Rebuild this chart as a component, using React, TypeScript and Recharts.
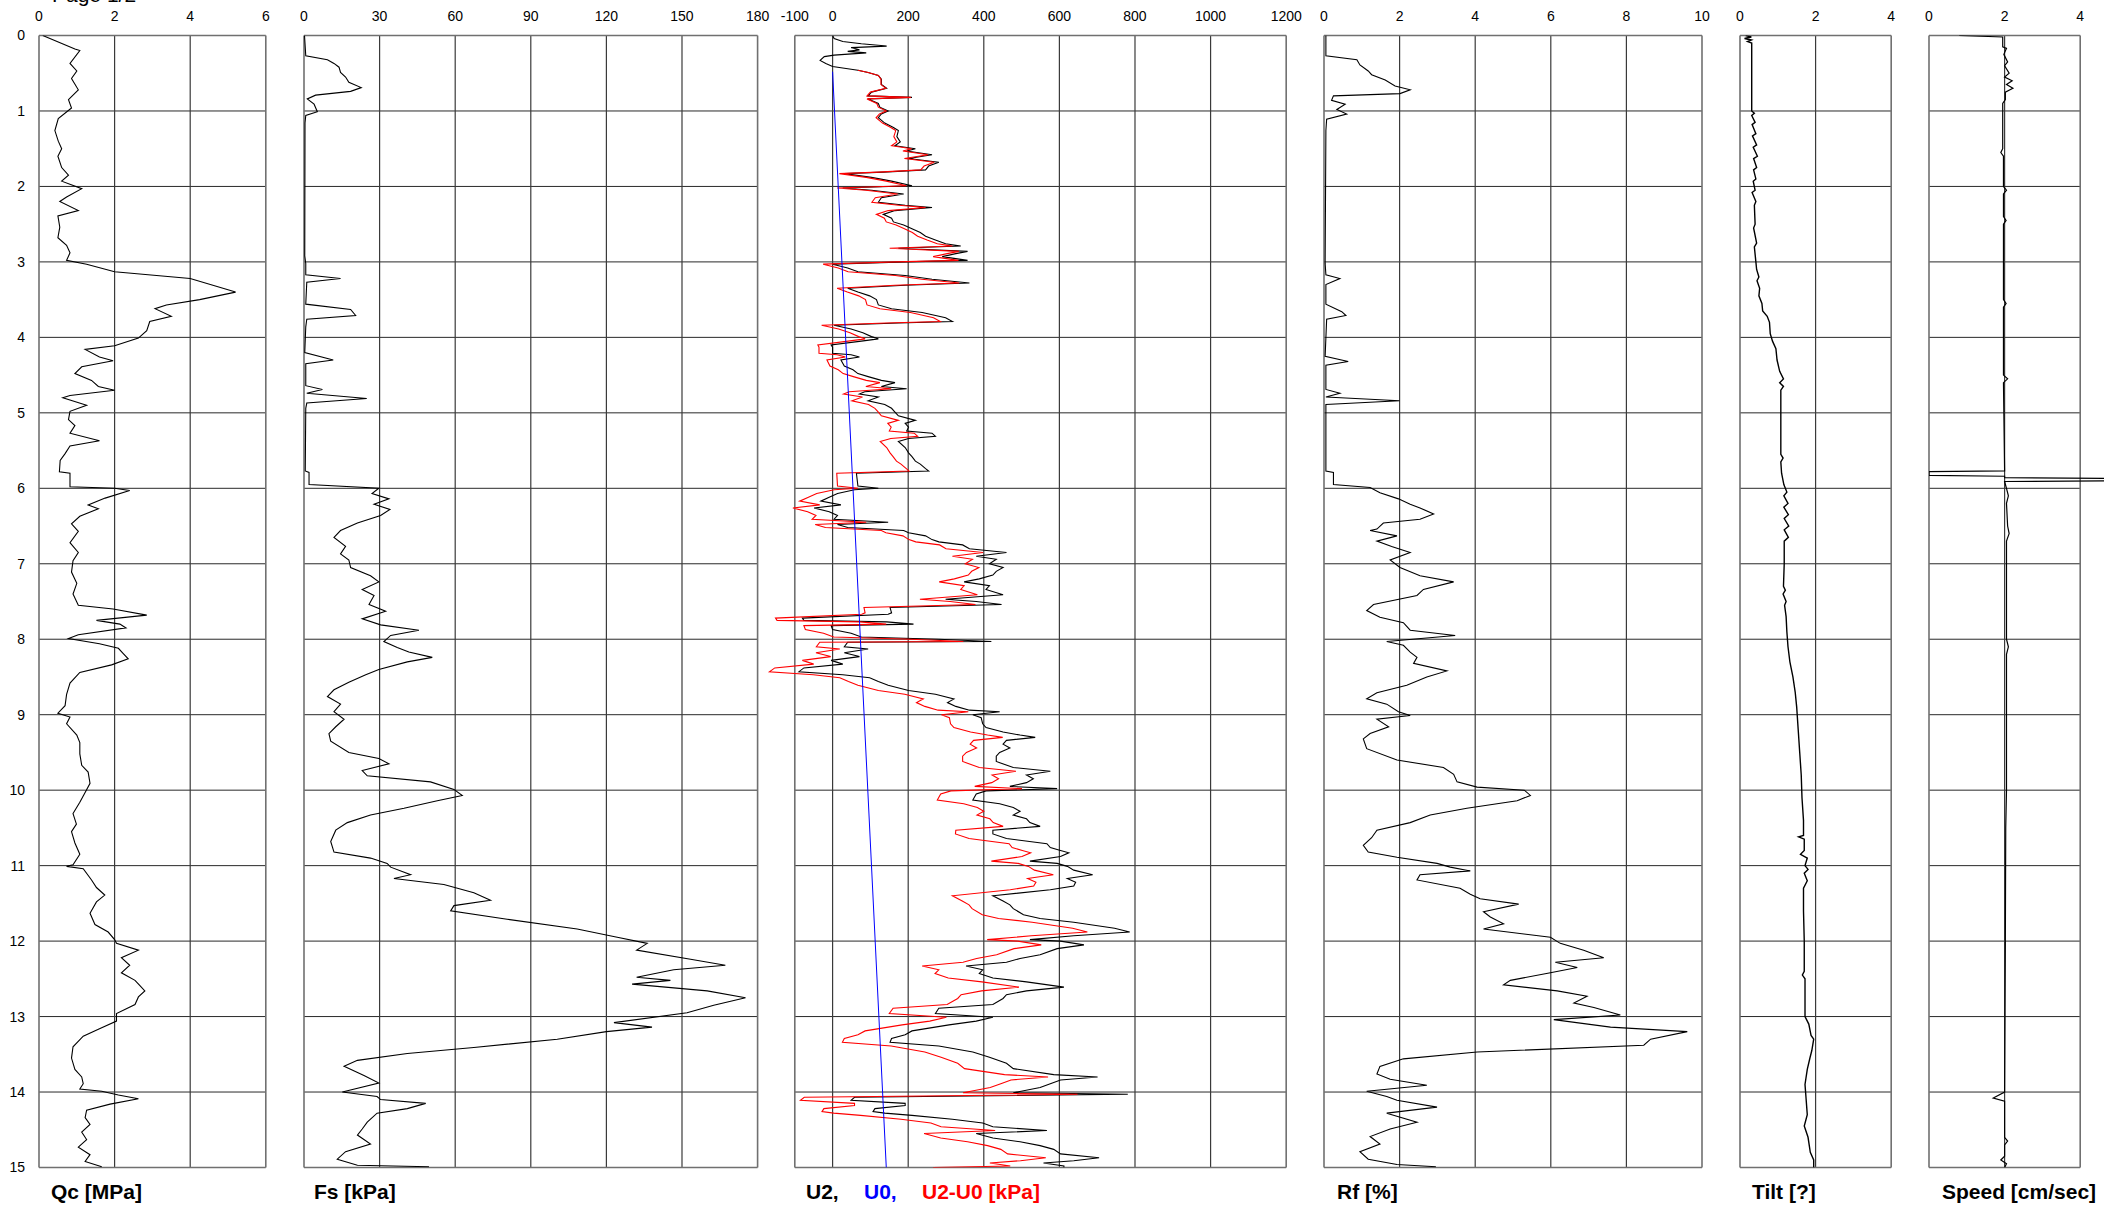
import React from 'react';
import { LineChart, Line, XAxis, YAxis, ReferenceLine } from 'recharts';

// depth axis (m), shared by every track
const depthTicks = [0, 1, 2, 3, 4, 5, 6, 7, 8, 9, 10, 11, 12, 13, 14, 15];

// top tick labels per track
const qcTicks = [0, 2, 4, 6];
const fsTicks = [0, 30, 60, 90, 120, 150, 180];
const u2Ticks = [-100, 0, 200, 400, 600, 800, 1000, 1200];
const rfTicks = [0, 2, 4, 6, 8, 10];
const tiltTicks = [0, 2, 4];
const speedTicks = [0, 2, 4];

// [depth m, value]
const qc: [number, number][] = [
  [0, 0.1], [0.18, 0.95], [0.2, 1.08], [0.37, 0.82], [0.47, 1.0], [0.57, 0.86], [0.72, 1.04], [0.85, 0.78], [0.96, 0.86],
  [1.1, 0.51], [1.26, 0.42], [1.4, 0.51], [1.5, 0.6], [1.6, 0.5], [1.75, 0.6], [1.85, 0.78], [1.93, 0.6],
  [2.03, 1.13], [2.14, 0.73], [2.2, 0.55], [2.32, 1.04], [2.39, 0.5], [2.54, 0.55], [2.68, 0.5], [2.78, 0.73], [2.88, 0.82], [2.98, 0.73],
  [3.03, 1.26], [3.13, 2.0], [3.22, 4.0], [3.4, 5.2], [3.5, 4.25], [3.57, 3.37], [3.62, 3.07], [3.72, 3.5], [3.79, 2.93], [3.91, 2.85], [4.01, 2.63], [4.11, 2.0],
  [4.16, 1.22], [4.26, 1.6], [4.31, 1.96], [4.39, 1.13], [4.48, 0.95], [4.57, 1.39], [4.65, 1.57], [4.7, 2.0], [4.77, 0.82], [4.8, 0.63], [4.9, 1.26], [4.98, 0.82],
  [5.09, 0.78], [5.17, 0.95], [5.27, 0.82], [5.37, 1.6], [5.44, 0.82], [5.54, 0.69], [5.63, 0.56], [5.78, 0.54], [5.8, 0.82], [5.98, 0.82], [6.0, 2.0], [6.03, 2.4],
  [6.13, 1.75], [6.22, 1.3], [6.27, 1.57], [6.37, 1.08], [6.47, 0.86], [6.57, 1.04], [6.72, 0.82], [6.85, 1.04], [6.96, 0.9],
  [7.11, 0.86], [7.26, 1.0], [7.4, 0.9], [7.55, 1.04], [7.6, 1.96], [7.68, 2.85], [7.75, 1.52], [7.8, 2.14], [7.85, 2.3], [7.94, 1.04], [7.99, 0.78], [8.06, 1.6],
  [8.12, 2.1], [8.19, 2.23], [8.26, 2.36], [8.34, 1.92], [8.44, 1.08], [8.58, 0.82], [8.73, 0.73], [8.88, 0.69], [8.98, 0.5], [9.03, 0.82],
  [9.12, 0.73], [9.27, 1.0], [9.37, 1.08], [9.52, 1.08], [9.67, 1.13], [9.76, 1.3], [9.91, 1.35], [10.03, 1.22],
  [10.16, 1.08], [10.31, 0.9], [10.45, 0.99], [10.55, 0.86], [10.7, 0.95], [10.85, 1.08], [10.99, 0.9], [11.01, 0.73], [11.04, 1.17],
  [11.19, 1.39], [11.29, 1.52], [11.39, 1.74], [11.48, 1.52], [11.63, 1.35], [11.78, 1.48], [11.88, 1.83], [11.98, 2.0], [12.03, 2.05],
  [12.12, 2.63], [12.22, 2.18], [12.32, 2.4], [12.42, 2.18], [12.52, 2.54], [12.59, 2.67], [12.66, 2.8], [12.74, 2.63], [12.84, 2.54], [12.96, 2.05], [13.06, 2.05],
  [13.16, 1.6], [13.26, 1.17], [13.4, 0.9], [13.55, 0.86], [13.7, 0.95], [13.8, 1.13], [13.89, 1.17], [13.96, 1.08], [13.99, 1.66],
  [14.04, 2.1], [14.09, 2.63], [14.16, 1.88], [14.24, 1.26], [14.34, 1.22], [14.43, 1.35], [14.53, 1.13], [14.63, 1.26], [14.73, 1.04], [14.83, 1.35], [14.92, 1.22], [14.99, 1.66],
];

const fs: [number, number][] = [
  [0, 0.2], [0.27, 0.7], [0.32, 9.3], [0.37, 11.9], [0.42, 13.9], [0.49, 14.5], [0.55, 16.5], [0.62, 17.8], [0.69, 22.7], [0.74, 18.5], [0.79, 4.6], [0.84, 1.3], [0.91, 4.0], [1.01, 5.3], [1.06, 0.7], [1.16, 0.4], [2.92, 0.3],
  [3.02, 0.7], [3.17, 0.7], [3.22, 14.5], [3.27, 1.1], [3.56, 0.7], [3.63, 18.5], [3.71, 20.5], [3.76, 1.1], [3.86, 0.7], [4.2, 0.3], [4.3, 11.6], [4.35, 0.7], [4.64, 0.7], [4.69, 7.3], [4.74, 1.1], [4.81, 24.9], [4.87, 1.1], [4.94, 0.7], [5.77, 0.5], [5.79, 2.0], [5.95, 2.0], [6.0, 29.7],
  [6.07, 27.0], [6.14, 33.7], [6.21, 27.8], [6.28, 34.1], [6.36, 30.4], [6.46, 21.2], [6.56, 14.5], [6.65, 11.9], [6.77, 16.5], [6.87, 14.5], [6.95, 17.8], [7.05, 18.5], [7.16, 26.4], [7.24, 29.7], [7.34, 23.1], [7.42, 27.8], [7.54, 25.8], [7.63, 32.4], [7.73, 23.1], [7.81, 30.4], [7.88, 45.6], [7.95, 34.4], [8.03, 31.7], [8.11, 37.0], [8.17, 41.6], [8.24, 50.9], [8.3, 41.0], [8.4, 29.7], [8.47, 24.5], [8.57, 17.8], [8.67, 11.9], [8.76, 9.3], [8.86, 14.5], [8.96, 11.9], [9.06, 15.9], [9.16, 12.6], [9.25, 9.9], [9.35, 10.6], [9.5, 17.8], [9.58, 29.7], [9.65, 33.7], [9.74, 23.1], [9.81, 25.1], [9.89, 50.2], [9.99, 59.5], [10.07, 62.8], [10.14, 52.9], [10.24, 39.7], [10.33, 26.4], [10.43, 17.2], [10.53, 12.6], [10.68, 10.6], [10.82, 11.9], [10.9, 26.4], [10.97, 33.0], [11.02, 34.4], [11.12, 42.3], [11.17, 35.7], [11.25, 55.5], [11.36, 67.4], [11.46, 74.0], [11.53, 59.5], [11.6, 58.2], [11.71, 80.6], [11.84, 108.4], [11.95, 124.3], [12.03, 136.2], [12.12, 132.0], [12.24, 153.4], [12.32, 167.2], [12.38, 146.7], [12.48, 132.0], [12.52, 145.4], [12.57, 130.2], [12.66, 160.0], [12.75, 175.2], [12.85, 162.6], [12.95, 152.0], [13.08, 123.0], [13.14, 138.1], [13.2, 120.0], [13.3, 100.5], [13.41, 67.4], [13.49, 41.0], [13.58, 21.2], [13.66, 15.9], [13.78, 23.8], [13.88, 29.7], [14.0, 15.2], [14.06, 29.0], [14.1, 30.4], [14.15, 48.3], [14.22, 41.0], [14.28, 29.0], [14.4, 25.1], [14.49, 23.1], [14.57, 21.2], [14.69, 26.4], [14.79, 16.5], [14.89, 13.2], [14.97, 21.2], [14.99, 49.6],
];

const u2: [number, number][] = [
  [0, 0], [0.04, 4], [0.08, 27], [0.11, 76], [0.14, 143], [0.16, 49], [0.19, 71], [0.21, 40], [0.23, 89], [0.26, 4], [0.28, -22], [0.33, -33], [0.37, -18], [0.41, 0], [0.46, 67], [0.49, 94], [0.53, 121], [0.58, 129], [0.65, 129], [0.7, 143], [0.75, 103], [0.8, 94], [0.82, 210], [0.84, 94], [0.9, 121], [0.95, 125],
  [1.0, 147], [1.04, 129], [1.09, 121], [1.16, 138], [1.22, 161], [1.26, 174], [1.34, 170], [1.41, 179], [1.46, 165], [1.5, 219], [1.53, 196], [1.58, 263], [1.63, 201], [1.68, 281], [1.73, 254], [1.78, 246], [1.81, 134], [1.83, 31], [1.88, 103], [1.93, 156], [1.99, 210],
  [2.02, 27], [2.05, 103], [2.1, 188], [2.15, 129], [2.21, 121], [2.25, 192], [2.28, 263], [2.32, 165], [2.37, 134], [2.42, 156], [2.47, 161], [2.51, 188], [2.56, 210], [2.61, 232], [2.66, 246], [2.71, 272], [2.76, 299], [2.79, 339], [2.82, 174], [2.86, 357], [2.89, 326], [2.93, 290], [2.98, 357],
  [3.0, 192], [3.03, 0], [3.08, 40], [3.13, 67], [3.18, 192], [3.23, 263], [3.28, 362], [3.31, 192], [3.35, 40], [3.4, 67], [3.45, 98], [3.5, 116], [3.57, 121], [3.62, 156], [3.67, 237], [3.74, 299], [3.79, 317], [3.81, 174], [3.84, 4], [3.89, 49], [3.94, 80], [3.99, 103],
  [4.02, 121], [4.05, 76], [4.1, -4], [4.13, 0], [4.21, 0], [4.23, 49], [4.26, 71], [4.3, 22], [4.38, 31], [4.43, 54], [4.48, 67], [4.52, 94], [4.57, 129], [4.6, 165], [4.65, 129], [4.68, 196], [4.72, 85], [4.75, 71], [4.79, 121], [4.84, 94], [4.89, 138], [4.94, 156], [4.99, 165],
  [5.04, 174], [5.1, 219], [5.14, 192], [5.19, 201], [5.24, 196], [5.27, 263], [5.31, 272], [5.34, 201], [5.38, 174], [5.46, 192], [5.53, 201], [5.58, 210], [5.64, 219], [5.68, 232], [5.74, 246], [5.77, 254], [5.8, 63], [5.97, 67],
  [6.0, 121], [6.02, 58], [6.07, 13], [6.12, -9], [6.17, -31], [6.22, 22], [6.26, -49], [6.31, -9], [6.36, 13], [6.41, 4], [6.45, 147], [6.48, 13], [6.52, 40], [6.56, 188], [6.59, 201], [6.63, 246], [6.68, 263], [6.71, 281], [6.75, 344], [6.8, 362], [6.85, 460], [6.9, 380], [6.94, 433],
  [7.0, 415], [7.05, 451], [7.1, 433], [7.15, 424], [7.2, 388], [7.24, 348], [7.29, 415], [7.34, 406], [7.41, 451], [7.47, 299], [7.5, 380], [7.54, 447], [7.58, 152], [7.65, 156], [7.67, 147], [7.72, -80], [7.75, -76], [7.77, 143], [7.8, 214], [7.82, -4], [7.87, 0], [7.92, 49], [7.97, 76],
  [8.0, 281], [8.03, 420], [8.04, 40], [8.1, 31], [8.13, 94], [8.18, 31], [8.23, 71], [8.28, -4], [8.33, 27], [8.38, -76], [8.43, -89], [8.47, 27], [8.51, 98], [8.56, 121], [8.61, 147], [8.68, 201], [8.73, 272], [8.79, 321], [8.84, 304], [8.89, 326], [8.94, 362], [8.96, 442],
  [9.0, 371], [9.04, 393], [9.12, 397], [9.17, 406], [9.23, 451], [9.27, 496], [9.3, 536], [9.34, 460], [9.39, 451], [9.44, 469], [9.5, 442], [9.55, 433], [9.62, 433], [9.7, 478], [9.75, 576], [9.8, 513], [9.85, 531], [9.9, 513], [9.95, 469], [9.98, 594],
  [10.01, 406], [10.05, 380], [10.13, 371], [10.18, 442], [10.23, 478], [10.28, 496], [10.33, 478], [10.38, 513], [10.43, 522], [10.48, 549], [10.53, 424], [10.58, 424], [10.64, 460], [10.71, 567], [10.76, 576], [10.8, 603], [10.83, 625], [10.88, 603], [10.94, 522], [10.97, 594],
  [11.01, 621], [11.06, 638], [11.12, 688], [11.17, 621], [11.22, 643], [11.27, 638], [11.32, 576], [11.4, 424], [11.47, 451], [11.52, 469], [11.57, 478], [11.65, 505], [11.7, 549], [11.75, 638], [11.83, 746], [11.88, 786], [11.93, 638], [11.98, 522],
  [12.0, 603], [12.05, 665], [12.1, 594], [12.18, 549], [12.23, 496], [12.28, 460], [12.33, 353], [12.38, 397], [12.43, 388], [12.49, 424], [12.54, 513], [12.61, 612], [12.66, 513], [12.71, 460], [12.76, 451], [12.84, 424], [12.89, 281], [12.96, 272],
  [13.01, 424], [13.06, 380], [13.11, 308], [13.19, 210], [13.24, 192], [13.29, 156], [13.34, 152], [13.39, 281], [13.47, 371], [13.54, 415], [13.62, 460], [13.69, 478], [13.77, 585], [13.8, 701], [13.84, 603], [13.89, 576], [13.94, 549],
  [14.01, 478], [14.03, 781], [14.07, 58], [14.11, 49], [14.15, 192], [14.18, 192], [14.22, 112], [14.26, 107], [14.28, 138], [14.31, 210], [14.36, 317], [14.41, 397], [14.46, 424], [14.51, 567], [14.55, 380], [14.61, 424], [14.66, 496], [14.71, 549], [14.76, 585], [14.82, 603], [14.87, 705], [14.91, 638], [14.94, 558], [14.98, 612], [15.0, 612],
];

const u2u0: [number, number][] = [
  [0.46, 67], [0.49, 94], [0.53, 121], [0.58, 128], [0.65, 128], [0.7, 141], [0.75, 100], [0.8, 91], [0.82, 207], [0.84, 91], [0.9, 117], [0.95, 121],
  [1.0, 142], [1.04, 124], [1.09, 115], [1.16, 132], [1.22, 154], [1.26, 167], [1.34, 162], [1.41, 170], [1.46, 156], [1.5, 209], [1.53, 186], [1.58, 252], [1.63, 190], [1.68, 269], [1.73, 242], [1.78, 233], [1.81, 121], [1.83, 18], [1.88, 89], [1.93, 142], [1.99, 195],
  [2.02, 12], [2.05, 88], [2.1, 172], [2.15, 113], [2.21, 104], [2.25, 175], [2.28, 246], [2.32, 147], [2.37, 116], [2.42, 137], [2.47, 142], [2.51, 168], [2.56, 190], [2.61, 211], [2.66, 225], [2.71, 250], [2.76, 277], [2.79, 317], [2.82, 151], [2.86, 334], [2.89, 303], [2.93, 266], [2.98, 333],
  [3.0, 168], [3.03, -25], [3.08, 15], [3.13, 41], [3.18, 166], [3.23, 236], [3.28, 335], [3.31, 165], [3.35, 12], [3.4, 39], [3.45, 69], [3.5, 87], [3.57, 91], [3.62, 125], [3.67, 206], [3.74, 267], [3.79, 285], [3.81, 142], [3.84, -29], [3.89, 16], [3.94, 46], [3.99, 69],
  [4.02, 86], [4.05, 41], [4.1, -39], [4.13, -36], [4.21, -36], [4.23, 12], [4.26, 34], [4.3, -15], [4.38, -7], [4.43, 15], [4.48, 28], [4.52, 55], [4.57, 89], [4.6, 125], [4.65, 88], [4.68, 155], [4.72, 44], [4.75, 29], [4.79, 79], [4.84, 51], [4.89, 95], [4.94, 112], [4.99, 121],
  [5.04, 129], [5.1, 174], [5.14, 146], [5.19, 155], [5.24, 150], [5.27, 216], [5.31, 225], [5.34, 154], [5.38, 126], [5.46, 143], [5.53, 152], [5.58, 160], [5.64, 169], [5.68, 181], [5.74, 195], [5.77, 202], [5.8, 11], [5.97, 13],
  [6.0, 67], [6.02, 4], [6.07, -42], [6.12, -64], [6.17, -87], [6.22, -34], [6.26, -105], [6.31, -66], [6.36, -44], [6.41, -54], [6.45, 89], [6.48, -46], [6.52, -19], [6.56, 129], [6.59, 141], [6.63, 186], [6.68, 202], [6.71, 220], [6.75, 283], [6.8, 300], [6.85, 398], [6.9, 317], [6.94, 370],
  [7.0, 351], [7.05, 387], [7.1, 368], [7.15, 359], [7.2, 322], [7.24, 282], [7.29, 348], [7.34, 339], [7.41, 383], [7.47, 231], [7.5, 311], [7.54, 378], [7.58, 83], [7.65, 86], [7.67, 77], [7.72, -151], [7.75, -147], [7.77, 72], [7.8, 142], [7.82, -76], [7.87, -72], [7.92, -24], [7.97, 3],
  [8.0, 207], [8.03, 346], [8.04, -34], [8.1, -43], [8.13, 19], [8.18, -44], [8.23, -5], [8.28, -80], [8.33, -50], [8.38, -153], [8.43, -167], [8.47, -51], [8.51, 19], [8.56, 42], [8.61, 67], [8.68, 121], [8.73, 191], [8.79, 240], [8.84, 222], [8.89, 244], [8.94, 279], [8.96, 359],
  [9.0, 288], [9.04, 309], [9.12, 312], [9.17, 321], [9.23, 365], [9.27, 410], [9.3, 450], [9.34, 373], [9.39, 364], [9.44, 381], [9.5, 354], [9.55, 344], [9.62, 344], [9.7, 388], [9.75, 485], [9.8, 422], [9.85, 439], [9.9, 421], [9.95, 376], [9.98, 501],
  [10.01, 313], [10.05, 286], [10.13, 277], [10.18, 347], [10.23, 383], [10.28, 400], [10.33, 382], [10.38, 416], [10.43, 425], [10.48, 451], [10.53, 326], [10.58, 325], [10.64, 361], [10.71, 467], [10.76, 475], [10.8, 502], [10.83, 524], [10.88, 501], [10.94, 420], [10.97, 491],
  [11.01, 518], [11.06, 534], [11.12, 584], [11.17, 516], [11.22, 538], [11.27, 532], [11.32, 470], [11.4, 317], [11.47, 343], [11.52, 361], [11.57, 369], [11.65, 396], [11.7, 439], [11.75, 528], [11.83, 635], [11.88, 674], [11.93, 526], [11.98, 409],
  [12.0, 490], [12.05, 552], [12.1, 480], [12.18, 434], [12.23, 381], [12.28, 345], [12.33, 237], [12.38, 281], [12.43, 271], [12.49, 306], [12.54, 395], [12.61, 493], [12.66, 394], [12.71, 340], [12.76, 331], [12.84, 303], [12.89, 160], [12.96, 150],
  [13.01, 301], [13.06, 257], [13.11, 184], [13.19, 86], [13.24, 67], [13.29, 31], [13.34, 26], [13.39, 155], [13.47, 244], [13.54, 287], [13.62, 331], [13.69, 349], [13.77, 455], [13.8, 570], [13.84, 472], [13.89, 445], [13.94, 417],
  [14.01, 345], [14.03, 648], [14.07, -75], [14.11, -85], [14.15, 58], [14.18, 58], [14.22, -23], [14.26, -28], [14.28, 3], [14.31, 74], [14.36, 181], [14.41, 260], [14.46, 287], [14.51, 430], [14.55, 242], [14.61, 286], [14.66, 357], [14.71, 410], [14.76, 445], [14.82, 463], [14.87, 564], [14.91, 497], [14.94, 416], [14.98, 470], [15.0, 266],
];

const u0: [number, number][] = [
  [0.48, 0], [15.0, 142],
];

const rf: [number, number][] = [
  [0, 0.05], [0.27, 0.05], [0.32, 0.87], [0.39, 0.95], [0.47, 1.17], [0.52, 1.26], [0.59, 1.62], [0.67, 1.88], [0.72, 2.28], [0.77, 2.01], [0.8, 0.25], [0.86, 0.2], [0.91, 0.56], [0.98, 0.34], [1.04, 0.6], [1.11, 0.07], [1.26, 0.05], [3.02, 0.03],
  [3.17, 0.05], [3.22, 0.42], [3.3, 0.05], [3.56, 0.05], [3.66, 0.47], [3.71, 0.58], [3.76, 0.07], [4.25, 0.03], [4.32, 0.64], [4.37, 0.05], [4.69, 0.05], [4.74, 0.42], [4.79, 0.05], [4.84, 2.0], [4.89, 0.05], [5.77, 0.05], [5.79, 0.25], [5.95, 0.25],
  [5.99, 1.22], [6.06, 1.48], [6.14, 1.97], [6.21, 2.28], [6.26, 2.54], [6.34, 2.9], [6.41, 2.54], [6.46, 1.57], [6.54, 1.4], [6.56, 1.22], [6.63, 1.93], [6.7, 1.4], [6.77, 1.79], [6.85, 2.28], [6.95, 1.75], [7.05, 2.01], [7.16, 2.54], [7.24, 3.43], [7.34, 2.63], [7.42, 2.46], [7.54, 1.31], [7.62, 1.13], [7.71, 1.48], [7.78, 2.1], [7.88, 2.28], [7.95, 3.47],
  [8.03, 1.66], [8.08, 2.1], [8.17, 2.28], [8.24, 2.46], [8.32, 2.37], [8.42, 3.25], [8.5, 2.72], [8.61, 2.19], [8.71, 1.4], [8.79, 1.13], [8.86, 1.66], [8.96, 1.97], [9.01, 2.28], [9.06, 1.4], [9.16, 1.71], [9.25, 1.22], [9.32, 1.04], [9.45, 1.13], [9.6, 1.93], [9.7, 3.16], [9.79, 3.43], [9.89, 3.52], [9.96, 4.05],
  [10.0, 5.3], [10.07, 5.46], [10.14, 5.11], [10.24, 3.78], [10.33, 2.81], [10.43, 2.28], [10.53, 1.4], [10.63, 1.26], [10.73, 1.04], [10.82, 1.17], [10.89, 1.93], [10.97, 2.99], [11.02, 3.34], [11.07, 3.87], [11.12, 2.54], [11.19, 2.46], [11.3, 3.6], [11.38, 3.87], [11.44, 4.13], [11.51, 5.15], [11.61, 4.22], [11.68, 4.4], [11.77, 4.75], [11.84, 4.22], [11.95, 5.99],
  [12.03, 6.25], [12.12, 6.87], [12.22, 7.4], [12.28, 6.12], [12.35, 6.7], [12.42, 5.99], [12.52, 4.93], [12.58, 4.75], [12.66, 6.17], [12.73, 6.96], [12.82, 6.61], [12.88, 7.14], [12.98, 7.84], [13.04, 6.08], [13.14, 7.58], [13.2, 9.61], [13.3, 8.64], [13.38, 8.46], [13.47, 4.05], [13.56, 2.1], [13.66, 1.48], [13.76, 1.4], [13.83, 1.75], [13.91, 2.72], [13.99, 1.13],
  [14.06, 1.66], [14.11, 1.93], [14.2, 2.99], [14.28, 1.66], [14.4, 2.46], [14.49, 1.75], [14.59, 1.22], [14.69, 1.48], [14.79, 0.95], [14.89, 1.17], [14.96, 1.93], [14.99, 2.96],
];

const tilt: [number, number][] = [
  [0, 0.15], [0.02, 0.3], [0.04, 0.12], [0.06, 0.3], [0.08, 0.2], [0.1, 0.31], [1.0, 0.31], [1.03, 0.38], [1.06, 0.31], [1.15, 0.4], [1.18, 0.32], [1.3, 0.42], [1.33, 0.33], [1.45, 0.44], [1.48, 0.35], [1.6, 0.46], [1.63, 0.36], [1.75, 0.44], [1.78, 0.36], [1.9, 0.42], [1.93, 0.35],
  [2.05, 0.4], [2.08, 0.32], [2.2, 0.42], [2.25, 0.38], [2.5, 0.4], [2.55, 0.36], [2.75, 0.44], [2.8, 0.38], [3.0, 0.42], [3.1, 0.44], [3.2, 0.5], [3.25, 0.45], [3.35, 0.52], [3.45, 0.5], [3.55, 0.58], [3.65, 0.6], [3.72, 0.72], [3.8, 0.78], [3.95, 0.8],
  [4.05, 0.86], [4.15, 0.95], [4.3, 0.98], [4.45, 1.05], [4.55, 1.15], [4.6, 1.05], [4.65, 1.15], [4.7, 1.08], [5.0, 1.08], [5.55, 1.08], [5.6, 1.14], [5.65, 1.08], [5.8, 1.1], [5.95, 1.16],
  [6.05, 1.24], [6.1, 1.16], [6.2, 1.27], [6.25, 1.16], [6.35, 1.28], [6.4, 1.17], [6.5, 1.29], [6.55, 1.17], [6.65, 1.28], [6.7, 1.17], [7.0, 1.17], [7.3, 1.15], [7.35, 1.2], [7.4, 1.14], [7.5, 1.22], [7.55, 1.18], [7.7, 1.22], [7.9, 1.24],
  [8.1, 1.27], [8.3, 1.32], [8.5, 1.4], [8.7, 1.46], [8.9, 1.5], [9.2, 1.54], [9.5, 1.58], [9.8, 1.62], [10.1, 1.64], [10.4, 1.68], [10.6, 1.68], [10.62, 1.55], [10.65, 1.7], [10.8, 1.7], [10.85, 1.6], [10.9, 1.78],
  [11.0, 1.72], [11.05, 1.8], [11.1, 1.7], [11.2, 1.78], [11.3, 1.68], [11.6, 1.68], [12.0, 1.7], [12.4, 1.7], [12.45, 1.65], [12.5, 1.72], [13.0, 1.72], [13.1, 1.82], [13.25, 1.88], [13.3, 1.95], [13.45, 1.9], [13.55, 1.85], [13.7, 1.78], [13.9, 1.72],
  [14.1, 1.75], [14.3, 1.78], [14.45, 1.7], [14.6, 1.8], [14.8, 1.86], [14.9, 1.95], [15.0, 1.95],
];

const speed: [number, number][] = [
  [0, 0.8], [0.02, 1.95], [0.15, 1.95], [0.17, 2.05], [0.25, 1.98], [0.35, 2.08], [0.4, 2.0], [0.5, 2.12], [0.55, 2.0], [0.6, 2.2], [0.65, 2.05], [0.7, 2.22], [0.75, 2.02], [0.85, 2.02], [0.9, 1.95],
  [1.5, 1.95], [1.55, 1.9], [1.6, 1.97], [2.0, 1.97], [2.05, 2.05], [2.1, 1.97], [2.4, 1.97], [2.45, 2.04], [2.5, 1.97], [3.5, 1.97], [3.55, 2.04], [3.6, 1.97], [4.5, 1.97], [4.55, 2.08], [4.6, 1.97],
  [5.77, 2.0], [5.78, 0], [5.83, 0], [5.84, 2.0], [5.86, 2.0], [5.87, 5], [5.9, 5], [5.91, 2.0],
  [6.0, 2.05], [6.1, 2.1], [6.2, 2.05], [6.5, 2.08], [6.6, 2.12], [6.7, 2.05], [8.0, 2.05], [8.1, 2.1], [8.2, 2.05], [10.0, 2.05], [10.5, 2.03], [12.0, 2.02],
  [14.0, 2.0], [14.08, 1.7], [14.12, 2.0], [14.6, 2.0], [14.65, 2.08], [14.7, 2.0], [14.85, 2.0], [14.9, 1.9], [14.95, 2.05], [15.0, 2.0],
];

const rows = (pairs: [number, number][]) => pairs.map(([d, v]) => ({ d, v }));

const FONT = 'Arial, "Liberation Sans", Helvetica, sans-serif';
const W = 2104;
const H = 1208;
const TOP = 35.5;
const BOTTOM = 1167.5;
const PAD = 22; // room at each side so edge tick labels are not cut

type Series = { name: string; data: [number, number][]; color: string; width: number };
type Track = {
  id: string;
  left: number; // pixel of the nominal minimum
  min: number;
  max: number;
  lo: number; // scale domain (wider where the trace runs past the frame)
  hi: number;
  ppu: number; // pixels per unit
  ticks: number[];
  depthAxis?: boolean;
  series: Series[];
};

const tracks: Track[] = [
  { id: 'qc', left: 39, min: 0, max: 6, lo: 0, hi: 6, ppu: 37.8, ticks: qcTicks, depthAxis: true,
    series: [{ name: 'Qc', data: qc, color: '#000', width: 1.1 }] },
  { id: 'fs', left: 303.6, min: 0, max: 180, lo: 0, hi: 180, ppu: 2.52, ticks: fsTicks,
    series: [{ name: 'Fs', data: fs, color: '#000', width: 1.1 }] },
  { id: 'u2', left: 795, min: -100, max: 1200, lo: -200, hi: 1200, ppu: 0.378, ticks: u2Ticks,
    series: [
      { name: 'U2', data: u2, color: '#000', width: 1.1 },
      { name: 'U2-U0', data: u2u0, color: '#ff0000', width: 1.1 },
      { name: 'U0', data: u0, color: '#0000ff', width: 1 },
    ] },
  { id: 'rf', left: 1324.2, min: 0, max: 10, lo: 0, hi: 10, ppu: 37.8, ticks: rfTicks,
    series: [{ name: 'Rf', data: rf, color: '#000', width: 1.1 }] },
  { id: 'tilt', left: 1740, min: 0, max: 4, lo: 0, hi: 4, ppu: 37.8, ticks: tiltTicks,
    series: [{ name: 'Tilt', data: tilt, color: '#000', width: 1.4 }] },
  { id: 'speed', left: 1929, min: 0, max: 4, lo: 0, hi: 5, ppu: 37.8, ticks: speedTicks,
    series: [{ name: 'Speed', data: speed, color: '#000', width: 1.2 }] },
];

const tickStyle = { fill: '#000', fontSize: 14, fontFamily: FONT };

function TrackChart({ t }: { t: Track }) {
  const plotLeft = t.left - (t.min - t.lo) * t.ppu;
  const plotWidth = (t.hi - t.lo) * t.ppu;
  const axisW = t.depthAxis ? plotLeft : 0;
  const padL = t.depthAxis ? 0 : PAD;
  const svgLeft = t.depthAxis ? 0 : plotLeft - PAD;
  const inner = t.ticks.filter((v) => v !== t.min && v !== t.max);
  return (
    <div style={{ position: 'absolute', left: svgLeft, top: 0 }}>
      <LineChart
        layout="vertical"
        width={plotWidth + axisW + padL + PAD}
        height={H}
        margin={{ top: 0, right: PAD, bottom: H - BOTTOM, left: padL }}
      >
        <XAxis
          type="number"
          orientation="top"
          domain={[t.lo, t.hi]}
          allowDataOverflow
          ticks={t.ticks}
          interval={0}
          height={TOP}
          tickLine={false}
          axisLine={false}
          tickSize={0}
          tickMargin={14.5}
          tick={tickStyle}
        />
        <YAxis
          type="number"
          dataKey="d"
          domain={[0, 15]}
          allowDataOverflow
          ticks={depthTicks}
          interval={0}
          hide={!t.depthAxis}
          width={axisW}
          tickLine={false}
          axisLine={false}
          tickSize={0}
          tickMargin={14}
          tick={tickStyle}
        />
        {depthTicks.slice(1, -1).map((d) => (
          <ReferenceLine key={'h' + d} ifOverflow="visible" stroke="#111" strokeWidth={0.9}
            segment={[{ x: t.min, y: d }, { x: t.max, y: d }]} />
        ))}
        {inner.map((v) => (
          <ReferenceLine key={'v' + v} ifOverflow="visible" stroke="#3a3a3a" strokeWidth={1.2}
            segment={[{ x: v, y: 0 }, { x: v, y: 15 }]} />
        ))}
        <ReferenceLine ifOverflow="visible" stroke="#707070" strokeWidth={1.6} segment={[{ x: t.min, y: 0 }, { x: t.max, y: 0 }]} />
        <ReferenceLine ifOverflow="visible" stroke="#707070" strokeWidth={1.6} segment={[{ x: t.min, y: 15 }, { x: t.max, y: 15 }]} />
        <ReferenceLine ifOverflow="visible" stroke="#707070" strokeWidth={1.6} segment={[{ x: t.min, y: 0 }, { x: t.min, y: 15 }]} />
        <ReferenceLine ifOverflow="visible" stroke="#707070" strokeWidth={1.6} segment={[{ x: t.max, y: 0 }, { x: t.max, y: 15 }]} />
        {t.series.map((s) => (
          <Line
            key={s.name}
            name={s.name}
            data={rows(s.data)}
            dataKey="v"
            type="linear"
            stroke={s.color}
            strokeWidth={s.width}
            dot={false}
            activeDot={false}
            isAnimationActive={false}
          />
        ))}
      </LineChart>
    </div>
  );
}

export default function App() {
  const cap = { fontFamily: FONT, fontSize: 21, fontWeight: 700 } as const;
  return (
    <div style={{ position: 'absolute', left: 0, top: 0, width: W, height: H, overflow: 'hidden', background: '#fff' }}>
      {tracks.map((t) => (
        <TrackChart key={t.id} t={t} />
      ))}
      <svg width={W} height={H} style={{ position: 'absolute', left: 0, top: 0, pointerEvents: 'none' }}>
        <text x={52} y={2} fontFamily={FONT} fontSize={21} fill="#000">Page 1/2</text>
        <text x={51} y={1199} {...cap} fill="#000">Qc [MPa]</text>
        <text x={314} y={1199} {...cap} fill="#000">Fs [kPa]</text>
        <text x={806} y={1199} {...cap} fill="#000">U2,</text>
        <text x={864} y={1199} {...cap} fill="#0000ff">U0,</text>
        <text x={922} y={1199} {...cap} fill="#ff0000">U2-U0 [kPa]</text>
        <text x={1337} y={1199} {...cap} fill="#000">Rf [%]</text>
        <text x={1752} y={1199} {...cap} fill="#000">Tilt [?]</text>
        <text x={1942} y={1199} {...cap} fill="#000">Speed [cm/sec]</text>
      </svg>
    </div>
  );
}
